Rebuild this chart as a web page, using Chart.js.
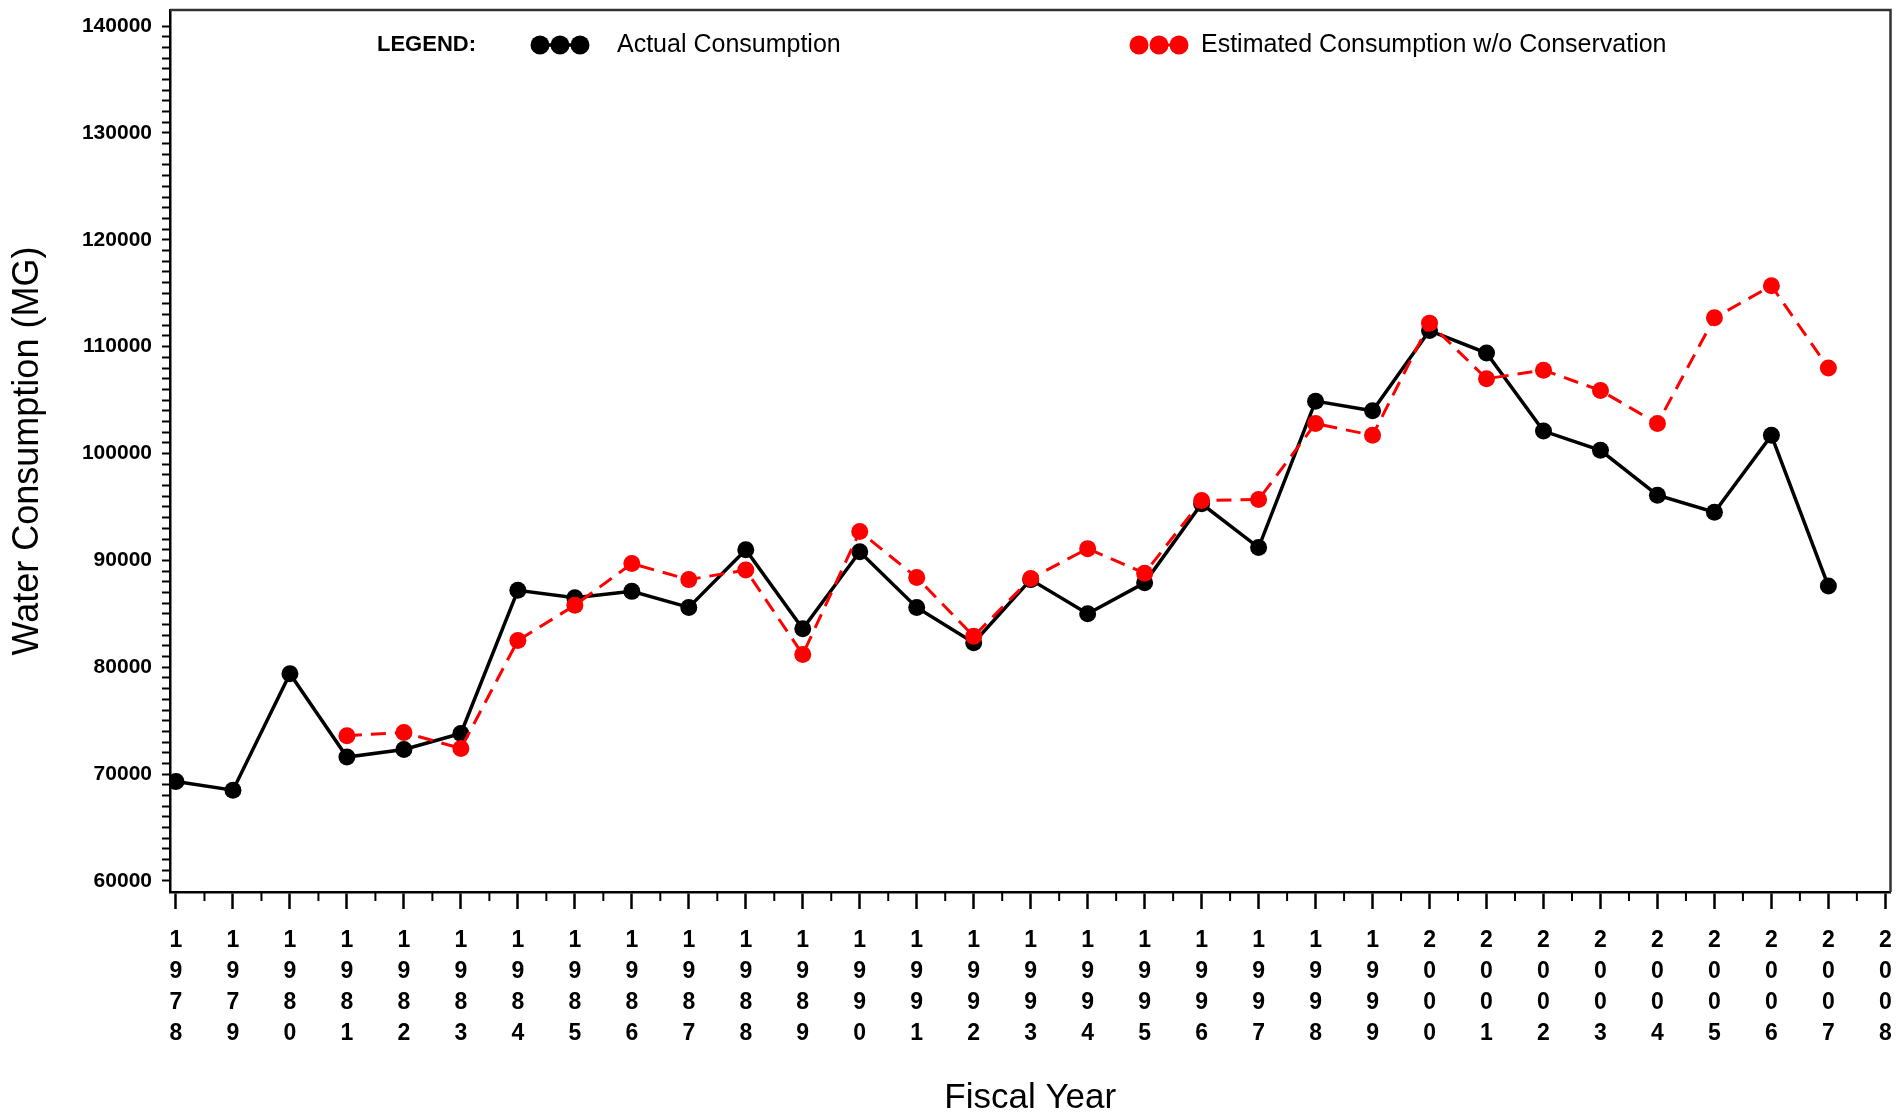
<!DOCTYPE html>
<html>
<head>
<meta charset="utf-8">
<title>Water Consumption by Fiscal Year</title>
<script src="https://cdn.jsdelivr.net/npm/chart.js@4.4.1/dist/chart.umd.min.js"></script>
<style>
  html, body { margin: 0; padding: 0; background: #fff; }
  canvas { display: block; }
</style>
</head>
<body>
<canvas id="chart" width="1899" height="1113"></canvas>
<script>
  // fiscal years on the x axis (2008 is a tick only, no data)
  const YEARS = [
    1978, 1979, 1980, 1981, 1982, 1983, 1984, 1985, 1986, 1987, 1988,
    1989, 1990, 1991, 1992, 1993, 1994, 1995, 1996, 1997, 1998, 1999,
    2000, 2001, 2002, 2003, 2004, 2005, 2006, 2007, 2008,
  ];

  // million gallons, 1978..2007
  const ACTUAL = [
    69300, 68500, 79400, 71600, 72300, 73800, 87200, 86500, 87100, 85600,
    91000, 83600, 90800, 85600, 82300, 88200, 85000, 87900, 95300, 91200,
    104900, 104000, 111500, 109400, 102100, 100300, 96100, 94500, 101700,
    87600,
  ];

  // estimate starts in 1981
  const ESTIMATED = [
    null, null, null,
    73600, 73900, 72400, 82500, 85800, 89700, 88200, 89100, 81200, 92700,
    88400, 82900, 88300, 91100, 88800, 95600, 95700, 102800, 101700,
    112200, 107000, 107800, 105900, 102800, 112700, 115700, 108000,
  ];

  const Y_LABEL_TICKS = [
    60000, 70000, 80000, 90000, 100000, 110000, 120000, 130000, 140000,
  ];
  const Y_MINOR_STEP = 1000;

  const SERIES_NAMES = [
    "Actual Consumption",
    "Estimated Consumption w/o Conservation",
  ];

  const FONT = "'Liberation Sans', Arial, Helvetica, sans-serif";

  const toPoints = (arr) =>
    arr.map((v, i) => ({ x: YEARS[i], y: v }));

  // frame on top/right, half-year minor ticks, SAS-style legend row
  const decorPlugin = {
    id: "decor",
    afterDraw(chart) {
      const { ctx, chartArea: a, scales } = chart;
      const xs = scales.x;
      ctx.save();

      ctx.strokeStyle = "#333";
      ctx.lineWidth = 2.5;
      ctx.beginPath();
      ctx.moveTo(a.left, a.top);
      ctx.lineTo(a.right, a.top);
      ctx.lineTo(a.right, a.bottom);
      ctx.stroke();

      ctx.strokeStyle = "#000";
      ctx.lineWidth = 2;
      for (let i = 0; i < YEARS.length - 1; i++) {
        const px = xs.getPixelForValue((YEARS[i] + YEARS[i + 1]) / 2);
        ctx.beginPath();
        ctx.moveTo(px, a.bottom);
        ctx.lineTo(px, a.bottom + 9);
        ctx.stroke();
      }

      const y = a.top + 35;
      ctx.fillStyle = "#000";
      ctx.textBaseline = "middle";
      ctx.textAlign = "left";
      ctx.font = "bold 22px " + FONT;
      ctx.fillText("LEGEND:", a.left + 207, y);

      const slots = [
        { sym: a.left + 360, text: a.left + 447 },
        { sym: a.left + 959, text: a.left + 1031 },
      ];
      chart.data.datasets.forEach((ds, i) => {
        const s = slots[i];
        ctx.strokeStyle = ds.borderColor;
        ctx.lineWidth = ds.borderWidth;
        ctx.setLineDash(ds.borderDash || []);
        ctx.beginPath();
        ctx.moveTo(s.sym + 4, y);
        ctx.lineTo(s.sym + 56, y);
        ctx.stroke();
        ctx.setLineDash([]);
        ctx.fillStyle = ds.pointBackgroundColor;
        [10, 30, 50].forEach((dx) => {
          ctx.beginPath();
          ctx.arc(s.sym + dx, y, 9.5, 0, Math.PI * 2);
          ctx.fill();
        });
        ctx.fillStyle = "#000";
        ctx.font = "25px " + FONT;
        ctx.fillText(ds.label, s.text, y);
      });

      ctx.restore();
    },
  };

  new Chart(document.getElementById("chart"), {
    type: "line",
    data: {
      datasets: [
        {
          label: SERIES_NAMES[0],
          data: toPoints(ACTUAL),
          borderColor: "#000000",
          backgroundColor: "#000000",
          pointBackgroundColor: "#000000",
          borderWidth: 3.5,
          pointRadius: 8.5,
          pointBorderWidth: 0,
          tension: 0,
          order: 2,
        },
        {
          label: SERIES_NAMES[1],
          data: toPoints(ESTIMATED),
          borderColor: "#ff0000",
          backgroundColor: "#ff0000",
          pointBackgroundColor: "#ff0000",
          borderWidth: 3,
          borderDash: [15, 9],
          pointRadius: 8.5,
          pointBorderWidth: 0,
          tension: 0,
          spanGaps: false,
          order: 1,
        },
      ],
    },
    options: {
      responsive: false,
      animation: false,
      devicePixelRatio: 1,
      layout: { padding: { top: 10, right: 7, left: 0, bottom: 0 } },
      plugins: {
        legend: { display: false },
        tooltip: { enabled: false },
      },
      scales: {
        x: {
          type: "linear",
          min: 1977.895,
          max: 2008.09,
          afterBuildTicks: (scale) => {
            scale.ticks = YEARS.map((v) => ({ value: v }));
          },
          afterFit: (scale) => {
            scale.height = 221;
            scale.paddingLeft = 0;
            scale.paddingRight = 0;
          },
          grid: {
            drawOnChartArea: false,
            tickLength: 17,
            tickWidth: 2.5,
            tickColor: "#000",
          },
          border: { display: true, color: "#000", width: 2.5 },
          ticks: {
            autoSkip: false,
            maxRotation: 0,
            padding: 16,
            color: "#000",
            font: { family: FONT, size: 23, weight: "bold", lineHeight: 1.35 },
            callback: (v) => String(v).split(""),
          },
          title: {
            display: true,
            text: "Fiscal Year",
            color: "#000",
            font: { family: FONT, size: 35, lineHeight: 1 },
            padding: { top: 0, bottom: -3 },
          },
        },
        y: {
          type: "linear",
          min: 58970,
          max: 141500,
          afterBuildTicks: (scale) => {
            const lo = Y_LABEL_TICKS[0];
            const hi = Y_LABEL_TICKS[Y_LABEL_TICKS.length - 1];
            const t = [];
            for (let v = lo; v <= hi; v += Y_MINOR_STEP) t.push({ value: v });
            scale.ticks = t;
          },
          afterFit: (scale) => {
            scale.width = 170;
            scale.paddingTop = 0;
            scale.paddingBottom = 0;
          },
          grid: {
            drawOnChartArea: false,
            tickLength: 8,
            tickWidth: 2,
            tickColor: "#000",
          },
          border: { display: true, color: "#000", width: 2.5 },
          ticks: {
            autoSkip: false,
            padding: 10,
            color: "#000",
            font: { family: FONT, size: 21, weight: "bold" },
            callback: (v) => (Y_LABEL_TICKS.includes(v) ? String(v) : ""),
          },
          title: {
            display: true,
            text: "Water Consumption (MG)",
            color: "#000",
            font: { family: FONT, size: 36, lineHeight: 1 },
            padding: { top: 10, bottom: 0 },
          },
        },
      },
    },
    plugins: [decorPlugin],
  });
</script>
</body>
</html>
